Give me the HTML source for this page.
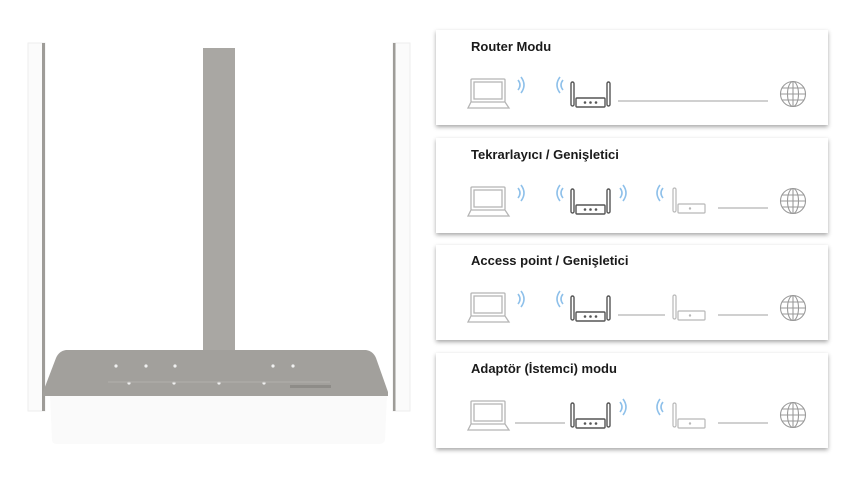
<!DOCTYPE html>
<html><head><meta charset="utf-8"><style>
html,body{margin:0;padding:0;background:#fff;width:844px;height:481px;overflow:hidden}
svg{display:block}
text{font-family:"Liberation Sans",sans-serif;font-weight:bold;font-size:13px;fill:#1a1a1a}
</style></head><body>
<svg width="844" height="481" viewBox="0 0 844 481" xmlns="http://www.w3.org/2000/svg">
<defs>
<filter id="sh" x="-5%" y="-10%" width="110%" height="130%"><feDropShadow dx="0" dy="2" stdDeviation="2" flood-color="#000" flood-opacity="0.35"/></filter>
<g id="laptop" fill="none" stroke="#b5b5b5" stroke-width="1.3">
<rect x="3" y="0" width="34" height="23" rx="1"/><rect x="6" y="3" width="28" height="17"/>
<path d="M3 23 L0 29 L41 29 L37 23"/></g>
<g id="wr" fill="none" stroke="#8ec0ea" stroke-width="1.6"><path d="M0 3 Q4 8 0 13"/><path d="M3 0 Q9 8 3 16"/></g>
<g id="wl" fill="none" stroke="#8ec0ea" stroke-width="1.6"><path d="M9 3 Q5 8 9 13"/><path d="M6 0 Q0 8 6 16"/></g>
<g id="router" fill="none" stroke="#555" stroke-width="1.4">
<rect x="0" y="0" width="3" height="24" rx="1.5"/><rect x="36" y="0" width="3" height="24" rx="1.5"/>
<rect x="5" y="16" width="29" height="9" rx="1"/>
<circle cx="14" cy="20.5" r="0.6" fill="#555"/><circle cx="19.5" cy="20.5" r="0.6" fill="#555"/><circle cx="25" cy="20.5" r="0.6" fill="#555"/></g>
<g id="dev" fill="none" stroke="#b8b8b8" stroke-width="1.2">
<rect x="0" y="0" width="3" height="24" rx="1.5"/><rect x="5" y="16" width="27" height="9" rx="1"/><circle cx="17" cy="20.5" r="0.6" fill="#b8b8b8"/></g>
<g id="globe" fill="none" stroke="#9a9a9a" stroke-width="1.1">
<circle cx="0" cy="0" r="12.5"/><ellipse cx="0" cy="0" rx="5.5" ry="12.5"/><line x1="0" y1="-12.5" x2="0" y2="12.5"/>
<line x1="-12.5" y1="0" x2="12.5" y2="0"/><line x1="-11" y1="-6" x2="11" y2="-6"/><line x1="-11" y1="6" x2="11" y2="6"/></g>
</defs>

<!-- router photo -->
<rect x="28" y="43" width="17" height="368" fill="#fbfbfb" stroke="#eee" stroke-width="1"/>
<rect x="42" y="43" width="3" height="368" fill="#9e9c98"/>
<rect x="393" y="43" width="17" height="368" fill="#fbfbfb" stroke="#eee" stroke-width="1"/>
<rect x="393" y="43" width="2.5" height="368" fill="#9e9c98"/>
<rect x="203" y="48" width="32" height="304" fill="#a9a7a3"/>
<path d="M50 395 L387 395 L385 440 Q384 444 378 444 L58 444 Q52 444 52 440 Z" fill="#fafafa"/>
<path d="M66 350 L366 350 Q373 351 376 358 L388 392 L388 396 L43 396 L43 392 L56 358 Q59 351 66 350 Z" fill="#a2a09c"/>
<g fill="#f0f0f0"><circle cx="116" cy="366" r="1.6"/><circle cx="146" cy="366" r="1.6"/><circle cx="175" cy="366" r="1.6"/><circle cx="273" cy="366" r="1.6"/><circle cx="293" cy="366" r="1.6"/>
<circle cx="129" cy="383" r="1.6"/><circle cx="174" cy="383" r="1.6"/><circle cx="219" cy="383" r="1.6"/><circle cx="264" cy="383" r="1.6"/></g>
<line x1="108" y1="382" x2="330" y2="382" stroke="#b3b1ad" stroke-width="1"/>
<rect x="290" y="385" width="41" height="3" fill="#8e8c88"/>

<!-- cards -->
<g filter="url(#sh)" fill="#fff">
<rect x="436" y="30" width="392" height="95"/>
<rect x="436" y="138" width="392" height="95"/>
<rect x="436" y="245" width="392" height="95"/>
<rect x="436" y="353" width="392" height="95"/>
</g>
<text x="471" y="51">Router Modu</text>
<text x="471" y="159">Tekrarlayıcı / Genişletici</text>
<text x="471" y="265">Access point / Genişletici</text>
<text x="471" y="373">Adaptör (İstemci) modu</text>

<g stroke="#b5b5b5" stroke-width="1.2">
<line x1="618" y1="101" x2="768" y2="101"/>
<line x1="718" y1="208" x2="768" y2="208"/>
<line x1="618" y1="315" x2="665" y2="315"/><line x1="718" y1="315" x2="768" y2="315"/>
<line x1="515" y1="423" x2="565" y2="423"/><line x1="718" y1="423" x2="768" y2="423"/>
</g>

<!-- card1 -->
<use href="#laptop" x="468" y="79"/><use href="#wr" x="518" y="77"/><use href="#wl" x="554" y="77"/>
<use href="#router" x="571" y="82"/><use href="#globe" x="793" y="94"/>
<!-- card2 -->
<use href="#laptop" x="468" y="187"/><use href="#wr" x="518" y="185"/><use href="#wl" x="554" y="185"/>
<use href="#router" x="571" y="189"/><use href="#wr" x="620" y="185"/><use href="#wl" x="654" y="185"/>
<use href="#dev" x="673" y="188"/><use href="#globe" x="793" y="201"/>
<!-- card3 -->
<use href="#laptop" x="468" y="293"/><use href="#wr" x="518" y="291"/><use href="#wl" x="554" y="291"/>
<use href="#router" x="571" y="296"/><use href="#dev" x="673" y="295"/><use href="#globe" x="793" y="308"/>
<!-- card4 -->
<use href="#laptop" x="468" y="401"/><use href="#router" x="571" y="403"/>
<use href="#wr" x="620" y="399"/><use href="#wl" x="654" y="399"/>
<use href="#dev" x="673" y="403"/><use href="#globe" x="793" y="415"/>
</svg>
</body></html>
